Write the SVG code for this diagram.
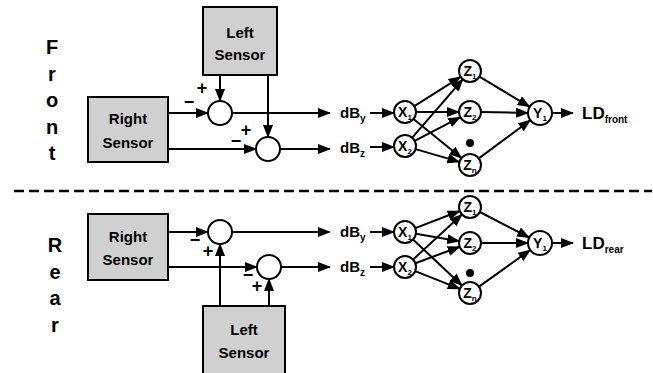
<svg xmlns="http://www.w3.org/2000/svg" width="653" height="373" viewBox="0 0 653 373">
<style>
text{font-family:"Liberation Sans",Arial,sans-serif;font-weight:bold;fill:#000}
.side{font-size:20px;text-anchor:middle}
.box{fill:#d0d0d0;stroke:#000;stroke-width:2}
.bt{font-size:15px;text-anchor:middle}
.sum{fill:#fff;stroke:#000;stroke-width:2}
.nn{fill:#fff;stroke:#000;stroke-width:2}
.nl{font-size:14px;text-anchor:middle}
.sub{font-size:8px}
.sg{font-size:18px;text-anchor:middle}
.lbl{font-size:15px}
.ld{font-size:17px}
.c line,.c path{stroke:#000;stroke-width:2;fill:none}
.a{marker-end:url(#ah)}
</style>
<defs>
<marker id="ah" markerUnits="userSpaceOnUse" markerWidth="13" markerHeight="10" refX="12" refY="5" orient="auto">
<path d="M0,0 L13,5 L0,10 z" fill="#000"/>
</marker>
</defs>
<rect width="653" height="373" fill="#fff"/>

<g id="label-front">
<text class="side" x="52" y="54">F</text>
<text class="side" x="52" y="81">r</text>
<text class="side" x="52" y="107">o</text>
<text class="side" x="52" y="134">n</text>
<text class="side" x="52" y="160">t</text>
</g>
<g id="label-rear">
<text class="side" x="55" y="252">R</text>
<text class="side" x="55" y="279">e</text>
<text class="side" x="55" y="305">a</text>
<text class="side" x="55" y="332">r</text>
</g>

<line id="separator" x1="14" y1="191" x2="652" y2="191" stroke="#000" stroke-width="2.5" stroke-dasharray="10 5"/>

<g class="c" id="connectors">
<!-- front sensor connections -->
<line class="a" x1="168" y1="113" x2="208" y2="113"/>
<line class="a" x1="168" y1="149" x2="256" y2="149"/>
<line class="a" x1="220" y1="75" x2="220" y2="101"/>
<line class="a" x1="268" y1="75" x2="268" y2="137"/>
<line class="a" x1="232" y1="113" x2="330" y2="113"/>
<line class="a" x1="280" y1="149" x2="330" y2="149"/>
<line class="a" x1="370" y1="113" x2="394" y2="113"/>
<line class="a" x1="370" y1="147" x2="394" y2="147"/>
<!-- front network -->
<line class="a" x1="414.3" y1="106.1" x2="460.7" y2="76.9"/>
<line class="a" x1="416" y1="112" x2="459" y2="112"/>
<line class="a" x1="413.5" y1="119" x2="461.5" y2="158"/>
<line class="a" x1="412.2" y1="137.7" x2="462.8" y2="79.3"/>
<line class="a" x1="414.7" y1="140.9" x2="460.3" y2="117.1"/>
<line class="a" x1="415.6" y1="149.1" x2="459.4" y2="161.9"/>
<line class="a" x1="479.4" y1="76.7" x2="529.7" y2="106.8"/>
<line class="a" x1="481" y1="112" x2="528" y2="113"/>
<line class="a" x1="478.8" y1="158.4" x2="530.4" y2="120.2"/>
<line class="a" x1="552" y1="113" x2="573" y2="113"/>
<!-- rear sensor connections -->
<line class="a" x1="168" y1="232" x2="208" y2="232"/>
<line class="a" x1="168" y1="267" x2="257" y2="267"/>
<line class="a" x1="220" y1="306" x2="220" y2="244"/>
<line class="a" x1="269" y1="306" x2="269" y2="279"/>
<line class="a" x1="232" y1="232" x2="330" y2="232"/>
<line class="a" x1="281" y1="267" x2="330" y2="267"/>
<line class="a" x1="370" y1="232" x2="394" y2="232"/>
<line class="a" x1="370" y1="267" x2="394" y2="267"/>
<!-- rear network -->
<line class="a" x1="415.3" y1="228.1" x2="459.7" y2="211"/>
<line class="a" x1="415.8" y1="233.8" x2="459.2" y2="241.2"/>
<line class="a" x1="413" y1="239.5" x2="462" y2="285.5"/>
<line class="a" x1="413.1" y1="259.5" x2="461.9" y2="214.5"/>
<line class="a" x1="415.3" y1="263.2" x2="459.7" y2="246.8"/>
<line class="a" x1="415.2" y1="271.1" x2="459.8" y2="288.9"/>
<line class="a" x1="479.8" y1="212" x2="529.3" y2="237.5"/>
<line class="a" x1="481" y1="243" x2="528" y2="243"/>
<line class="a" x1="479" y1="286.6" x2="530.2" y2="250"/>
<line class="a" x1="552" y1="243" x2="573" y2="243"/>
</g>

<!-- front sensors -->
<g id="front-left-sensor">
<rect class="box" x="203" y="7" width="74" height="68"/>
<text class="bt" x="240" y="38">Left</text>
<text class="bt" x="240" y="60">Sensor</text>
</g>
<g id="front-right-sensor">
<rect class="box" x="88" y="97" width="80" height="65"/>
<text class="bt" x="128" y="124">Right</text>
<text class="bt" x="128" y="148">Sensor</text>
</g>
<g id="front-sum1">
<circle class="sum" cx="220" cy="113" r="12"/>
<text class="sg" x="202" y="94">+</text>
<text class="sg" x="189" y="108">−</text>
</g>
<g id="front-sum2">
<circle class="sum" cx="268" cy="149" r="12"/>
<text class="sg" x="246" y="136">+</text>
<text class="sg" x="236" y="147">−</text>
</g>
<g id="front-dBy"><text class="lbl" x="340" y="118">dB<tspan font-size="10" dy="4">y</tspan></text></g>
<g id="front-dBz"><text class="lbl" x="340" y="153">dB<tspan font-size="10" dy="4">z</tspan></text></g>
<g id="front-X1"><circle class="nn" cx="405" cy="112" r="11"/><text class="nl" x="405" y="117">X<tspan class="sub" dy="3">1</tspan></text></g>
<g id="front-X2"><circle class="nn" cx="405" cy="146" r="11"/><text class="nl" x="405" y="151">X<tspan class="sub" dy="3">2</tspan></text></g>
<g id="front-Z1"><circle class="nn" cx="470" cy="71" r="11"/><text class="nl" x="470" y="76">Z<tspan class="sub" dy="3">1</tspan></text></g>
<g id="front-Z2"><circle class="nn" cx="470" cy="112" r="11"/><text class="nl" x="470" y="117">Z<tspan class="sub" dy="3">2</tspan></text></g>
<g id="front-dot"><circle cx="470" cy="143" r="4" fill="#000"/></g>
<g id="front-Zn"><circle class="nn" cx="470" cy="165" r="11"/><text class="nl" x="470" y="170">Z<tspan class="sub" dy="3">n</tspan></text></g>
<g id="front-Y1"><circle class="nn" cx="540" cy="113" r="12"/><text class="nl" x="540" y="118">Y<tspan class="sub" dy="3">1</tspan></text></g>
<g id="front-LD"><text class="ld" x="582" y="119">LD<tspan font-size="10" dy="4">front</tspan></text></g>

<!-- rear -->
<g id="rear-right-sensor">
<rect class="box" x="88" y="214" width="80" height="66"/>
<text class="bt" x="128" y="242">Right</text>
<text class="bt" x="128" y="265">Sensor</text>
</g>
<g id="rear-left-sensor">
<rect class="box" x="203" y="306" width="82" height="75"/>
<text class="bt" x="244" y="335">Left</text>
<text class="bt" x="244" y="358">Sensor</text>
</g>
<g id="rear-sum1">
<circle class="sum" cx="220" cy="232" r="12"/>
<text class="sg" x="195" y="246">−</text>
<text class="sg" x="208" y="257">+</text>
</g>
<g id="rear-sum2">
<circle class="sum" cx="269" cy="267" r="12"/>
<text class="sg" x="248" y="281">−</text>
<text class="sg" x="257" y="292">+</text>
</g>
<g id="rear-dBy"><text class="lbl" x="340" y="237">dB<tspan font-size="10" dy="4">y</tspan></text></g>
<g id="rear-dBz"><text class="lbl" x="340" y="272">dB<tspan font-size="10" dy="4">z</tspan></text></g>
<g id="rear-X1"><circle class="nn" cx="405" cy="232" r="11"/><text class="nl" x="405" y="237">X<tspan class="sub" dy="3">1</tspan></text></g>
<g id="rear-X2"><circle class="nn" cx="405" cy="267" r="11"/><text class="nl" x="405" y="272">X<tspan class="sub" dy="3">2</tspan></text></g>
<g id="rear-Z1"><circle class="nn" cx="470" cy="207" r="11"/><text class="nl" x="470" y="212">Z<tspan class="sub" dy="3">1</tspan></text></g>
<g id="rear-Z2"><circle class="nn" cx="470" cy="243" r="11"/><text class="nl" x="470" y="248">Z<tspan class="sub" dy="3">2</tspan></text></g>
<g id="rear-dot"><circle cx="470" cy="273" r="4" fill="#000"/></g>
<g id="rear-Zn"><circle class="nn" cx="470" cy="293" r="11"/><text class="nl" x="470" y="298">Z<tspan class="sub" dy="3">n</tspan></text></g>
<g id="rear-Y1"><circle class="nn" cx="540" cy="243" r="12"/><text class="nl" x="540" y="248">Y<tspan class="sub" dy="3">1</tspan></text></g>
<g id="rear-LD"><text class="ld" x="582" y="249">LD<tspan font-size="10" dy="4">rear</tspan></text></g>
</svg>
